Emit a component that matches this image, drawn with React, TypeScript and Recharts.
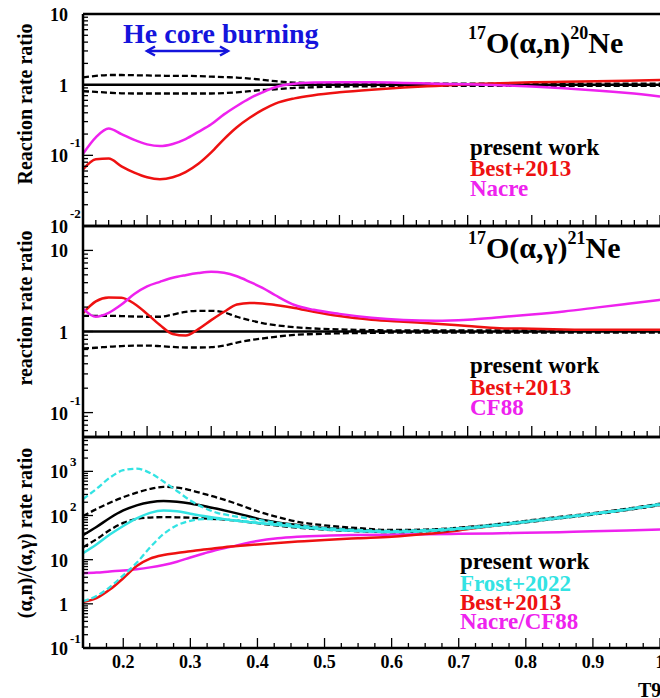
import React from 'react';
import { LineChart, Line, XAxis, YAxis, ReferenceLine } from 'recharts';

const FONT = 'Liberation Serif, Tinos, DejaVu Serif, serif';
const RED = '#ee1111';
const MAG = '#ee22ee';
const CYAN = '#33e3e3';
const BLUE = '#1414dc';

// ---------- Panels 1 & 2 (x axis 0.1 .. 1.0) ----------
const T_TOP = [0.10, 0.12, 0.14, 0.16, 0.18, 0.20, 0.22, 0.24, 0.26, 0.28, 0.30, 0.32, 0.34, 0.36, 0.38, 0.40, 0.43, 0.46, 0.50, 0.55, 0.60, 0.65, 0.70, 0.75, 0.80, 0.85, 0.90, 0.95, 1.00];

// 17O(a,n)20Ne ratios
const anNacre = [0.105, 0.18, 0.24, 0.2, 0.165, 0.143, 0.135, 0.145, 0.17, 0.215, 0.275, 0.38, 0.5, 0.64, 0.78, 0.92, 1.03, 1.07, 1.08, 1.08, 1.06, 1.03, 1.01, 0.98, 0.94, 0.89, 0.83, 0.76, 0.68];
const anBest = [0.063, 0.088, 0.09, 0.07, 0.057, 0.049, 0.046, 0.049, 0.058, 0.076, 0.11, 0.17, 0.25, 0.34, 0.44, 0.54, 0.64, 0.71, 0.78, 0.85, 0.91, 0.96, 1.01, 1.05, 1.08, 1.1, 1.12, 1.14, 1.16];
const anPresent = [1, 1, 1, 1, 1, 1, 1, 1, 1, 1, 1, 1, 1, 1, 1, 1, 1, 1, 1, 1, 1, 1, 1, 1, 1, 1, 1, 1, 1];
const anUp = [1.27, 1.33, 1.37, 1.37, 1.36, 1.35, 1.34, 1.33, 1.33, 1.32, 1.3, 1.28, 1.26, 1.22, 1.17, 1.12, 1.07, 1.05, 1.04, 1.03, 1.03, 1.03, 1.03, 1.03, 1.03, 1.03, 1.03, 1.03, 1.03];
const anLo = [0.81, 0.79, 0.77, 0.755, 0.75, 0.75, 0.75, 0.75, 0.75, 0.75, 0.75, 0.76, 0.78, 0.81, 0.84, 0.86, 0.9, 0.92, 0.94, 0.95, 0.96, 0.96, 0.96, 0.96, 0.96, 0.96, 0.96, 0.96, 0.96];

// 17O(a,g)21Ne ratios
const agCF88 = [1.92, 1.52, 1.7, 2.15, 2.9, 3.6, 4.1, 4.6, 4.95, 5.25, 5.45, 5.3, 4.8, 4.1, 3.45, 2.8, 2.12, 1.85, 1.65, 1.48, 1.39, 1.36, 1.4, 1.5, 1.62, 1.77, 1.97, 2.2, 2.46];
const agBest = [1.69, 2.35, 2.62, 2.6, 2.2, 1.65, 1.2, 0.93, 0.89, 1.07, 1.38, 1.75, 2.15, 2.25, 2.22, 2.12, 1.95, 1.75, 1.55, 1.4, 1.32, 1.25, 1.17, 1.1, 1.08, 1.06, 1.05, 1.05, 1.05];
const agPresent = [1, 1, 1, 1, 1, 1, 1, 1, 1, 1, 1, 1, 1, 1, 1, 1, 1, 1, 1, 1, 1, 1, 1, 1, 1, 1, 1, 1, 1];
const agUp = [1.56, 1.56, 1.56, 1.55, 1.53, 1.52, 1.52, 1.62, 1.75, 1.8, 1.8, 1.72, 1.52, 1.38, 1.27, 1.2, 1.13, 1.09, 1.06, 1.04, 1.03, 1.03, 1.03, 1.03, 1.03, 1.03, 1.03, 1.03, 1.03];
const agLo = [0.62, 0.63, 0.65, 0.66, 0.67, 0.67, 0.66, 0.645, 0.635, 0.635, 0.64, 0.67, 0.73, 0.78, 0.82, 0.86, 0.91, 0.93, 0.95, 0.96, 0.97, 0.97, 0.97, 0.97, 0.97, 0.97, 0.97, 0.97, 0.97];

// ---------- Panel 3 (x axis 0.14 .. 1.0) ----------
const T_BOT = [0.14, 0.16, 0.18, 0.20, 0.22, 0.24, 0.26, 0.28, 0.30, 0.32, 0.34, 0.36, 0.38, 0.40, 0.43, 0.46, 0.50, 0.55, 0.60, 0.65, 0.70, 0.75, 0.80, 0.85, 0.90, 0.95, 1.00];
const rPresent = [36, 55, 88, 130, 170, 200, 213, 205, 188, 165, 142, 121, 102, 85, 70, 61, 52, 47, 44, 46, 51, 60, 73, 89, 109, 137, 178];
const rUp = [97, 140, 195, 260, 330, 400, 445, 430, 375, 310, 255, 205, 160, 125, 92, 72, 60, 52, 47, 48, 53, 62, 76, 93, 113, 142, 185];
const rLo = [19, 29, 47, 68, 84, 90, 92, 91, 89, 86, 83, 79, 73, 67, 59, 53, 48, 44, 42, 44, 49, 58, 70, 86, 105, 132, 172];
const rFrost = [14, 22, 37, 58, 86, 115, 130, 125, 110, 97, 88, 79, 73, 68, 61, 55, 49, 45, 43, 45, 50, 59, 72, 88, 108, 136, 177];
const rFrostUp = [235, 400, 720, 1060, 1150, 920, 590, 360, 220, 150, 115, 100, 89, 80, 68, 60, 52, 47, 45, 47, 52, 61, 74, 91, 111, 140, 182];
const rFrostLo = [1.15, 1.5, 2.4, 4.4, 8.5, 19, 38, 60, 76, 83, 83, 79, 74, 69, 62, 56, 49, 44, 42, 44, 49, 58, 71, 87, 107, 134, 175];
const rBest = [1.1, 1.35, 2.1, 3.8, 7.2, 10.6, 12.8, 14.2, 15.5, 17, 18.3, 19.8, 21, 22.2, 24, 25.7, 28, 30.5, 33, 38, 46, 58, 72, 88, 108, 135, 176];
const rNacre = [4.9, 5.1, 5.4, 5.7, 6.1, 6.7, 7.6, 9, 11.2, 13.8, 16.8, 19.5, 23, 26.5, 30.5, 33, 35, 36.2, 37, 37.8, 38.5, 39.4, 40.5, 42, 44, 46, 48];

// ---------- tick labels ----------
const X_LABEL_VALUES = [0.2, 0.3, 0.4, 0.5, 0.6, 0.7, 0.8, 0.9, 1.0];
const X_LABELS = ['0.2', '0.3', '0.4', '0.5', '0.6', '0.7', '0.8', '0.9', '1'];

const dataAN = T_TOP.map((t, i) => ({ t, nacre: anNacre[i], best: anBest[i], present: anPresent[i], up: anUp[i], lo: anLo[i] }));
const dataAG = T_TOP.map((t, i) => ({ t, cf88: agCF88[i], best: agBest[i], present: agPresent[i], up: agUp[i], lo: agLo[i] }));
const dataR = T_BOT.map((t, i) => ({
  t, present: rPresent[i], up: rUp[i], lo: rLo[i], frost: rFrost[i], frostUp: rFrostUp[i], frostLo: rFrostLo[i], best: rBest[i], nacre: rNacre[i],
}));

const r3 = (v: number) => Number(v.toPrecision(6));
const xTicksTop = Array.from({ length: 46 }, (_, i) => r3(0.1 + 0.02 * i));
const xTicksBot = Array.from({ length: 35 }, (_, i) => r3(0.15 + 0.025 * i));
function logTicks(lo: number, hi: number) {
  const out: number[] = [];
  for (let d = -3; d <= 4; d++) {
    for (let m = 1; m <= 9; m++) {
      const v = r3(m * Math.pow(10, d));
      if (v >= lo * 0.9999 && v <= hi * 1.0001) out.push(v);
    }
  }
  return out;
}

const TS: React.CSSProperties = { fontFamily: FONT, fontWeight: 700 };

function makeXTick(showLabels: boolean, majorLen: number, minorLen: number) {
  return (props: any) => {
    const { x, y, payload } = props;
    const v = payload.value as number;
    const major = Math.abs(v * 10 - Math.round(v * 10)) < 1e-6;
    const idx = X_LABEL_VALUES.findIndex((lv) => Math.abs(lv - v) < 1e-6);
    return (
      <g>
        <line x1={x} x2={x} y1={y} y2={y - (major ? majorLen : minorLen)} stroke="#000" strokeWidth={1.3} />
        {showLabels && major && idx >= 0 ? (
          <text x={x} y={y + 20} textAnchor="middle" style={{ ...TS, fontSize: 18 }} fill="#000">
            {X_LABELS[idx]}
          </text>
        ) : null}
      </g>
    );
  };
}

function makeYTick(supDy: number) {
  return (props: any) => {
    const { x, y, payload } = props;
    const v = payload.value as number;
    const e = Math.floor(Math.log10(v) + 1e-9);
    const m = v / Math.pow(10, e);
    const major = Math.abs(m - 1) < 1e-6;
    let main = '';
    let sup = '';
    if (major) {
      if (e === 0) main = '1';
      else if (e === 1) main = '10';
      else { main = '10'; sup = String(e); }
    }
    return (
      <g>
        <line x1={x} x2={x + (major ? 10 : 5)} y1={y} y2={y} stroke="#000" strokeWidth={1.3} />
        {major ? (
          <text x={x - 15} y={y + 7} textAnchor="end" style={{ ...TS, fontSize: 18 }} fill="#000">{main}</text>
        ) : null}
        {major && sup ? (
          <text x={x - 13} y={y + supDy} textAnchor="start" style={{ ...TS, fontSize: 13 }} fill="#000">{sup}</text>
        ) : null}
      </g>
    );
  };
}

const AXIS_LINE = { stroke: '#000', strokeWidth: 2.5 };
const W = 660;
const H = 698;

function Panel(props: {
  data: any[]; top: number; bottom: number; xDomain: [number, number]; xTicks: number[]; labels: boolean;
  yDomain: [number, number]; supDy: number; majorX: number; minorX: number; children: React.ReactNode;
}) {
  const { data, top, bottom, xDomain, xTicks, labels, yDomain, supDy, majorX, minorX, children } = props;
  return (
    <div style={{ position: 'absolute', left: 0, top: 0 }}>
      <LineChart width={W} height={H} data={data} margin={{ top, right: 0, left: 0, bottom: H - bottom - 20 }}>
        <XAxis dataKey="t" type="number" domain={xDomain} ticks={xTicks} interval={0} allowDataOverflow
          tickLine={false} tickSize={0} tickMargin={0} height={20} axisLine={AXIS_LINE}
          tick={makeXTick(labels, majorX, minorX)} />
        <YAxis type="number" scale="log" domain={yDomain} ticks={logTicks(yDomain[0], yDomain[1])} interval={0}
          allowDataOverflow tickLine={false} tickSize={0} tickMargin={0} width={83} axisLine={AXIS_LINE}
          tick={makeYTick(supDy)} />
        <ReferenceLine y={yDomain[1]} stroke="#000" strokeWidth={2.5} />
        {children}
      </LineChart>
    </div>
  );
}

const solid = (key: string, color: string) => (
  <Line key={key} dataKey={key} type="monotone" stroke={color} strokeWidth={2.5} dot={false} isAnimationActive={false} />
);
const dashed = (key: string, color: string) => (
  <Line key={key} dataKey={key} type="monotone" stroke={color} strokeWidth={2.3} strokeDasharray="6 3" dot={false} isAnimationActive={false} />
);

const T = (size: number, color: string): React.CSSProperties => ({ ...TS, fontSize: size, fill: color });

export default function App() {
  return (
    <div style={{ position: 'absolute', left: 0, top: 0, width: W, height: H, background: '#fff' }}>
      <Panel data={dataAN} top={14} bottom={226} xDomain={[0.1, 1]} xTicks={xTicksTop} labels={false}
        yDomain={[0.01, 10]} supDy={-8} majorX={11} minorX={6}>
        {dashed('up', '#000')}
        {dashed('lo', '#000')}
        {solid('present', '#000')}
        {solid('best', RED)}
        {solid('nacre', MAG)}
      </Panel>
      <Panel data={dataAG} top={226} bottom={437} xDomain={[0.1, 1]} xTicks={xTicksTop} labels={false}
        yDomain={[0.05, 20]} supDy={-8} majorX={11} minorX={6}>
        {dashed('up', '#000')}
        {dashed('lo', '#000')}
        {solid('present', '#000')}
        {solid('best', RED)}
        {solid('cf88', MAG)}
      </Panel>
      <Panel data={dataR} top={437} bottom={648} xDomain={[0.14, 1]} xTicks={xTicksBot} labels={true}
        yDomain={[0.1, 6000]} supDy={-5} majorX={10} minorX={5}>
        {solid('nacre', MAG)}
        {solid('best', RED)}
        {dashed('up', '#000')}
        {dashed('lo', '#000')}
        {solid('present', '#000')}
        {solid('frost', CYAN)}
        {dashed('frostUp', CYAN)}
        {dashed('frostLo', CYAN)}
      </Panel>

      <svg width={W} height={H} style={{ position: 'absolute', left: 0, top: 0, pointerEvents: 'none' }}>
        {/* y axis titles */}
        <text transform="translate(32,104) rotate(-90)" textAnchor="middle" style={T(20, '#000')}>Reaction rate ratio</text>
        <text transform="translate(32,308) rotate(-90)" textAnchor="middle" style={T(20, '#000')}>reaction rate ratio</text>
        <text transform="translate(32,533) rotate(-90)" textAnchor="middle" style={T(20, '#000')}>(α,n)/(α,γ) rate ratio</text>

        {/* He core burning */}
        <text x={123} y={43} style={T(28, BLUE)}>He core burning</text>
        <line x1={147} x2={228} y1={51} y2={51} stroke={BLUE} strokeWidth={2.5} />
        <polyline points="155,46.5 147,51 155,55.5" fill="none" stroke={BLUE} strokeWidth={2.5} />
        <polyline points="220,46.5 228,51 220,55.5" fill="none" stroke={BLUE} strokeWidth={2.5} />

        {/* reaction labels */}
        <text x={468} y={53} style={T(29, '#000')}>
          <tspan style={{ fontSize: 18 }} dy={-14}>17</tspan>
          <tspan style={{ fontSize: 30 }} dy={14}>O(α,n)</tspan>
          <tspan style={{ fontSize: 18 }} dy={-14}>20</tspan>
          <tspan style={{ fontSize: 30 }} dy={14}>Ne</tspan>
        </text>
        <text x={468} y={258} style={T(29, '#000')}>
          <tspan style={{ fontSize: 18 }} dy={-14}>17</tspan>
          <tspan style={{ fontSize: 30 }} dy={14}>O(α,γ)</tspan>
          <tspan style={{ fontSize: 18 }} dy={-14}>21</tspan>
          <tspan style={{ fontSize: 30 }} dy={14}>Ne</tspan>
        </text>

        {/* legends */}
        <text x={470} y={155} style={T(23, '#000')}>present work</text>
        <text x={470} y={176} style={T(23, RED)}>Best+2013</text>
        <text x={470} y={196} style={T(23, MAG)}>Nacre</text>

        <text x={470} y={373} style={T(23, '#000')}>present work</text>
        <text x={470} y={395} style={T(23, RED)}>Best+2013</text>
        <text x={470} y={415} style={T(23, MAG)}>CF88</text>

        <text x={460} y={569} style={T(23, '#000')}>present work</text>
        <text x={460} y={591} style={T(23, CYAN)}>Frost+2022</text>
        <text x={460} y={610} style={T(23, RED)}>Best+2013</text>
        <text x={460} y={629} style={T(23, MAG)}>Nacre/CF88</text>

        {/* x axis title */}
        <text x={638} y={697} style={T(20, '#000')}>T9</text>
      </svg>
    </div>
  );
}
